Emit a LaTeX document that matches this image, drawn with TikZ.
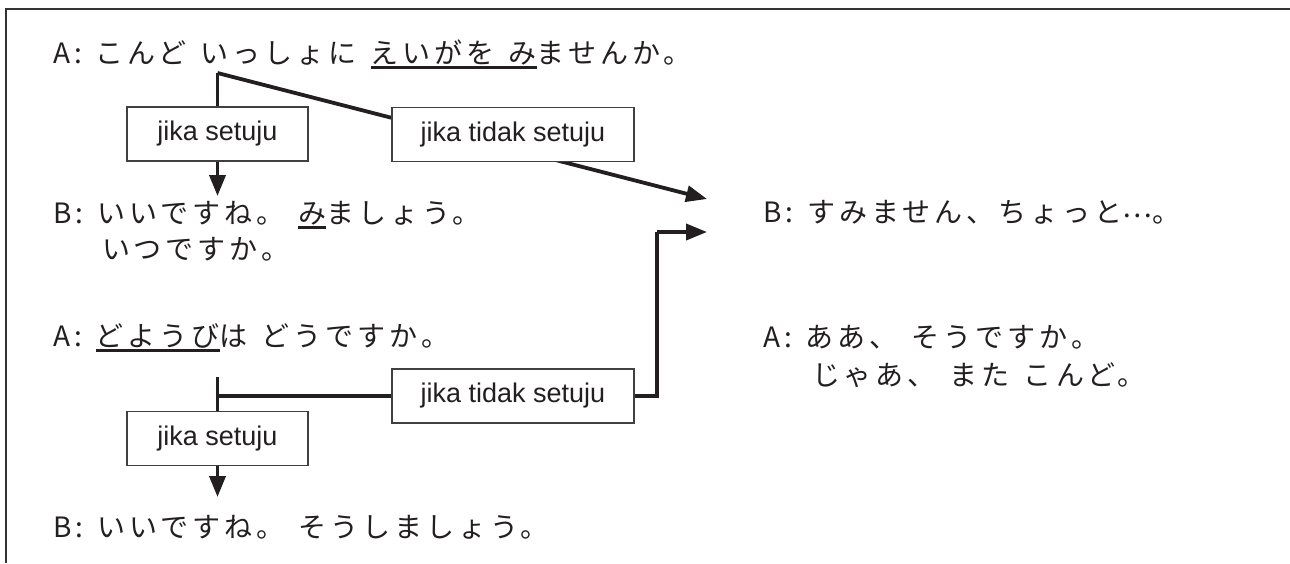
\documentclass[tikz,border=0pt]{standalone}
\usepackage{fontspec}
\setmainfont{Liberation Sans}
\newfontfamily\jpfont[LetterSpace=14.3]{Noto Sans CJK JP}
\newcommand\jpset{\jpfont\fontsize{28}{32}\selectfont\spaceskip=14pt plus 0pt minus 0pt\relax}
\usetikzlibrary{arrows.meta}
\definecolor{ink}{HTML}{231F20}
\pgfdeclarelayer{background}
\pgfsetlayers{background,main}
\newcommand\ulj[1]{\setbox0\hbox{#1}\rlap{\color{ink}\rule[-5.5pt]{\wd0}{2.8pt}}\box0}
\begin{document}
\begin{tikzpicture}[x=1pt,y=-1pt,
  jtext/.style={anchor=base west, inner sep=0pt, outer sep=0pt, text=ink, font=\jpset},
  lbl/.style={draw=black!75, line width=1.3pt, fill=white, text=ink, inner sep=0pt, outer sep=0pt,
    minimum height=54pt, font=\fontsize{27}{30}\selectfont},
  conn/.style={draw=ink, line width=3.8pt},
  arr/.style={conn, -{Triangle[length=21pt,width=16pt]}},
  frame/.style={draw=black!80, line width=2pt}]
\useasboundingbox (0,0) rectangle (1290,563);
\draw[frame] (1290,9) -- (6,9) -- (6,563);
% texts
\node[jtext] (a1) at (53,63) {A: こんど いっしょに \ulj{えいがを み}ませんか。};
\node[jtext] (b1) at (53,223) {B: いいですね。 \ulj{み}ましょう。};
\node[jtext] (b1b) at (102,259) {いつですか。};
\node[jtext] (a2) at (53,346) {A: \ulj{どようび}は どうですか。};
\node[jtext] (b3) at (53,537) {B: いいですね。 そうしましょう。};
\node[jtext] (b2) at (763,222) {B: すみません、ちょっと\raisebox{5pt}{…}。};
\node[jtext] (a3) at (763,347) {A: ああ、 そうですか。};
\node[jtext] (a3b) at (812,385) {じゃあ、 また こんど。};
% boxes
\node[lbl, minimum width=181pt] (s1) at (217.5,134) {jika setuju};
\node[lbl, minimum width=242pt] (s2) at (513,134.5) {jika tidak setuju};
\node[lbl, minimum width=181pt] (s3) at (217.5,438.5) {jika setuju};
\node[lbl, minimum width=242pt] (s4) at (513,396) {jika tidak setuju};
% coordinates
\coordinate (br1) at (217.5,73);
\coordinate (t1) at (707,199);
\coordinate (t2) at (707,232);
\coordinate (k2) at (657,232);
\coordinate (t3) at (217.5,196);
\coordinate (br2) at (217.5,377);
\coordinate (t4) at (217.5,497);
\begin{pgfonlayer}{background}
\draw[conn] (br1) -- (s1.north);
\draw[arr] (br1) -- (t1);
\draw[arr] (s1.south) -- (t3);
\draw[conn] (br2) -- (s3.north);
\draw[conn] (s3.north |- s4.west) -- (s4.west);
\draw[conn] (s4.east) -| (k2);
\draw[arr] (k2) -- (t2);
\draw[arr] (s3.south) -- (t4);
\end{pgfonlayer}
\end{tikzpicture}
\end{document}
